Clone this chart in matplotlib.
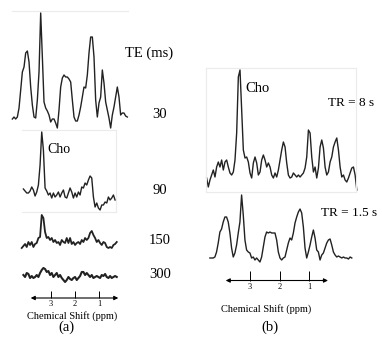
import numpy as np
import matplotlib
matplotlib.use("Agg")
import matplotlib.pyplot as plt

plt.rcParams['font.family'] = ['Liberation Serif', 'DejaVu Serif']

# spectra: intensities on an even ppm grid (arbitrary units)
te30 = [11, 13, 11, 13, 22, 40, 58, 63, 77, 79, 68, 43, 25, 13, 12, 30, 58, 117, 73, 28,
        22, 19, 15, 8, 11, 11, 7, 2, 20, 43, 52, 55, 53, 53, 51, 48, 30, 13, 9, 9,
        15, 23, 33, 43, 42, 55, 77, 93, 93, 73, 30, 13, 27, 33, 60, 47, 28, 20, 12, 2,
        15, 23, 33, 43, 33, 15, 17, 17, 14, 13]
te90 = [23, 21, 19, 19, 21, 25, 22, 16, 20, 27, 47, 80, 62, 24, 21, 17, 19, 14, 19, 15,
        17, 20, 15, 19, 22, 15, 14, 19, 24, 20, 14, 19, 15, 20, 17, 25, 24, 29, 27, 32,
        36, 34, 15, 5, 9, 4, 2, 7, 7, 10, 9, 15, 12, 14, 17, 12]
te150 = [2, 4, 6, 3, 8, 5, 8, 3, 6, 7, 12, 13, 35, 32, 18, 12, 13, 10, 12, 8,
         10, 7, 8, 5, 10, 8, 7, 12, 7, 12, 6, 8, 5, 7, 8, 6, 10, 8, 12, 10,
         12, 17, 19, 15, 12, 8, 10, 7, 5, 8, 7, 3, 2, 3, 2, 5, 6, 8]
te300 = [15, 13, 17, 16, 12, 14, 12, 13, 15, 13, 17, 20, 22, 21, 18, 19, 15, 17, 13, 15,
         17, 13, 15, 12, 10, 8, 10, 13, 11, 10, 12, 13, 10, 12, 14, 18, 18, 15, 17, 15,
         13, 15, 12, 13, 14, 13, 12, 15, 14, 16, 13, 12, 14, 12, 13, 14, 13]
tr8 = [14, 5, 12, 17, 22, 15, 25, 30, 25, 32, 22, 30, 32, 25, 19, 17, 20, 32, 59, 115,
       122, 82, 42, 34, 35, 30, 19, 14, 29, 35, 29, 17, 20, 32, 37, 32, 25, 29, 25, 17,
       14, 19, 15, 22, 32, 42, 50, 45, 29, 17, 14, 15, 19, 17, 15, 17, 15, 17, 19, 24,
       35, 62, 59, 35, 20, 25, 14, 24, 45, 52, 44, 25, 17, 20, 30, 35, 45, 50, 54, 42,
       25, 15, 17, 12, 10, 14, 19, 24, 25, 17, 2]
tr15 = [10, 10, 10, 11, 16, 25, 36, 39, 46, 51, 51, 46, 35, 20, 11, 15, 23, 35, 46, 73,
        53, 28, 18, 16, 15, 10, 11, 8, 10, 8, 6, 11, 21, 31, 36, 35, 36, 35, 35, 35,
        28, 16, 10, 8, 10, 11, 18, 25, 30, 28, 35, 45, 51, 56, 59, 55, 41, 20, 10, 16,
        23, 31, 38, 30, 18, 16, 8, 13, 15, 20, 25, 28, 29, 23, 16, 13, 11, 12, 11, 10,
        11, 10, 10, 9, 11, 10]

# ppm span of each trace (left, right)
te30_ppm = (4.61, -0.18)
te90_ppm = (4.15, 0.33)
te150_ppm = (4.22, 0.26)
te300_ppm = (4.15, 0.26)
tr8_ppm = (4.47, -0.62)
tr15_ppm = (4.36, -0.45)

te_labels = ['30', '90', '150', '300']
ppm_ticks = [3, 2, 1]

W, H = 382, 337
fig = plt.figure(figsize=(W / 100, H / 100), dpi=100)
fig.patch.set_facecolor('white')


def ppm_a(x):
    return 3 - (x - 51) / 24.0


def ppm_b(x):
    return 3 - (x - 250) / 29.5


def spec(vals, span, box, scale, frame=(), lw=1.0):
    l, t, r, b = box
    ax = fig.add_axes([l / W, 1 - b / H, (r - l) / W, (b - t) / H])
    ax.set_xlim(scale(l), scale(r))
    ax.set_ylim(0, b - t)
    ax.set_xticks([])
    ax.set_yticks([])
    ax.patch.set_alpha(0)
    for side, sp in ax.spines.items():
        sp.set_visible(side in frame)
        sp.set_color('#ebebeb')
        sp.set_linewidth(0.8)
    ppm = np.linspace(span[0], span[1], len(vals))
    ax.plot(ppm, vals, color='#222222', lw=lw, clip_on=False)
    return ax


def scale_bar(l, r, y, x0, x1, scale, tlen):
    ax = fig.add_axes([l / W, 1 - y / H, (r - l) / W, 10 / H])
    ax.set_xlim(scale(l), scale(r))
    ax.set_ylim(0, 1)
    ax.patch.set_alpha(0)
    for sp in ax.spines.values():
        sp.set_visible(False)
    ax.set_yticks([])
    ax.set_xticks(ppm_ticks)
    ax.tick_params(axis='x', direction='in', length=tlen, width=0.7,
                   labelsize=6, pad=1.5, colors='black')
    ax.annotate('', xy=(scale(x1), 0), xytext=(scale(x0), 0),
                arrowprops=dict(arrowstyle='<|-|>', color='black', lw=0.8,
                                mutation_scale=6, shrinkA=0, shrinkB=0),
                annotation_clip=False)
    return ax


# panel (a)
spec(te30, te30_ppm, (12, 11, 128, 130), ppm_a, frame=('top',))
spec(te90, te90_ppm, (22, 130, 116, 212), ppm_a, frame=('top', 'right', 'bottom'))
spec(te150, te150_ppm, (18, 210, 118, 250), ppm_a, lw=1.3)
spec(te300, te300_ppm, (18, 260, 118, 290), ppm_a, lw=1.5)
scale_bar(10, 130, 298, 30.7, 118.3, ppm_a, 5)

# panel (b)
spec(tr8, tr8_ppm, (206, 68, 356, 192), ppm_b, frame=('top', 'right', 'bottom', 'left'))
spec(tr15, tr15_ppm, (206, 192, 356, 268), ppm_b)
scale_bar(200, 362, 280.5, 225.7, 328, ppm_b, 7)


def txt(x, y, s, size, ha='center'):
    fig.text(x / W, 1 - y / H, s, fontsize=size, ha=ha, va='center')


txt(149, 53, 'TE (ms)', 10.5)
for lab, y in zip(te_labels, [115, 190, 240, 274]):
    txt(160, y, lab, 10.5)
txt(47, 149, 'Cho', 10, ha='left')
txt(245, 88, 'Cho', 10.5, ha='left')
txt(328, 103, 'TR = 8 s', 9.5, ha='left')
txt(321, 213, 'TR = 1.5 s', 9.5, ha='left')
txt(72, 316, 'Chemical Shift (ppm)', 7.5)
txt(66, 327, '(a)', 10.5)
txt(266, 309, 'Chemical Shift (ppm)', 7.5)
txt(270, 327, '(b)', 10.5)

fig.savefig('out.png', dpi=100)
